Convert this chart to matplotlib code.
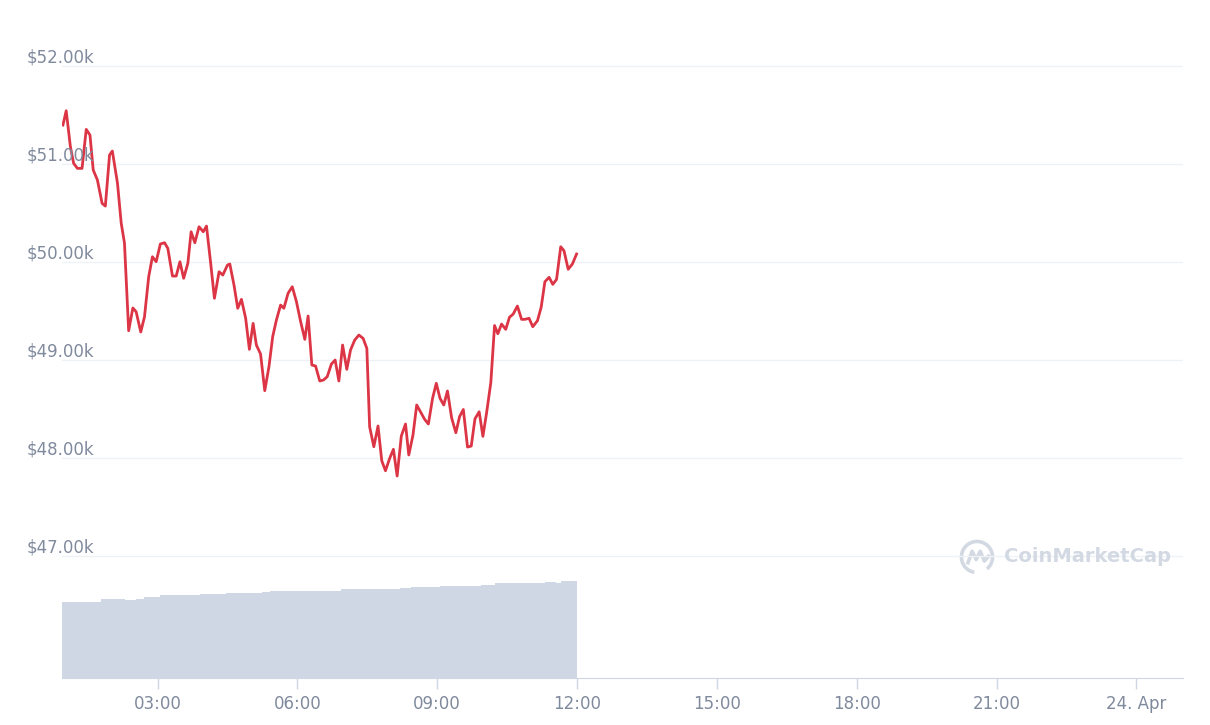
import matplotlib
matplotlib.use('Agg')
import matplotlib.pyplot as plt
from matplotlib.patches import Arc
import numpy as np

# Price samples (hour of day, USD)
hours = [0.97, 1.04, 1.13, 1.20, 1.28, 1.38, 1.47, 1.55, 1.62, 1.71,
         1.81, 1.88, 1.97, 2.03, 2.14, 2.22, 2.29, 2.38, 2.47, 2.54,
         2.64, 2.72, 2.81, 2.89, 2.97, 3.06, 3.15, 3.22, 3.32, 3.40,
         3.48, 3.56, 3.65, 3.72, 3.80, 3.89, 3.98, 4.05, 4.14, 4.22,
         4.32, 4.40, 4.50, 4.55, 4.64, 4.72, 4.80, 4.89, 4.97, 5.05,
         5.12, 5.21, 5.30, 5.39, 5.47, 5.55, 5.64, 5.71, 5.80, 5.89,
         5.98, 6.07, 6.16, 6.23, 6.31, 6.39, 6.48, 6.56, 6.64, 6.73,
         6.81, 6.89, 6.97, 7.06, 7.14, 7.23, 7.32, 7.41, 7.49, 7.55,
         7.64, 7.73, 7.81, 7.89, 7.98, 8.06, 8.14, 8.23, 8.32, 8.39,
         8.48, 8.56, 8.64, 8.73, 8.81, 8.90, 8.98, 9.06, 9.14, 9.22,
         9.31, 9.40, 9.48, 9.56, 9.65, 9.73, 9.81, 9.90, 9.98, 10.06,
         10.15, 10.23, 10.30, 10.38, 10.47, 10.55, 10.63, 10.72, 10.81, 10.88,
         10.97, 11.05, 11.15, 11.23, 11.31, 11.40, 11.48, 11.56, 11.65, 11.72,
         11.81, 11.90, 11.99]
prices = [51398, 51544, 51177, 51007, 50956, 50956, 51354, 51296, 50939, 50837,
          50599, 50571, 51092, 51133, 50806, 50398, 50194, 49299, 49531, 49493,
          49286, 49442, 49850, 50054, 50003, 50184, 50197, 50140, 49857, 49857,
          50003, 49834, 49987, 50309, 50197, 50360, 50309, 50367, 49987, 49630,
          49901, 49867, 49969, 49980, 49765, 49528, 49619, 49426, 49109, 49374,
          49153, 49061, 48687, 48932, 49238, 49408, 49561, 49528, 49681, 49748,
          49595, 49391, 49211, 49449, 48949, 48939, 48786, 48796, 48830, 48959,
          49000, 48786, 49153, 48905, 49102, 49204, 49255, 49221, 49119, 48319,
          48115, 48327, 47972, 47870, 47997, 48089, 47816, 48225, 48347, 48031,
          48235, 48541, 48472, 48395, 48347, 48609, 48762, 48609, 48541, 48684,
          48408, 48258, 48423, 48495, 48112, 48122, 48400, 48472, 48221, 48464,
          48770, 49352, 49268, 49367, 49313, 49436, 49469, 49551, 49415, 49415,
          49426, 49340, 49401, 49538, 49799, 49844, 49772, 49823, 50156, 50115,
          49926, 49980, 50082]

# 24h volume steps (hour, billions USD)
vol_hours = [0.96, 1.78, 2.10, 2.31, 2.53, 2.70, 2.85, 3.06, 3.32, 3.92,
             4.46, 4.57, 4.78, 5.04, 5.25, 5.42, 5.64, 6.07, 6.61, 6.93,
             7.36, 7.61, 7.89, 8.21, 8.43, 8.64, 9.07, 9.71, 9.93, 10.25,
             10.79, 11.00, 11.32, 11.54, 11.65, 12.00]
volumes = [57.0, 58.9, 59.3, 58.5, 59.3, 60.4, 61.1, 61.9, 62.6, 63.0,
           63.4, 63.8, 63.4, 63.8, 64.5, 65.3, 65.6, 65.3, 65.6, 66.4,
           66.8, 66.4, 67.1, 67.5, 68.3, 68.6, 69.0, 69.0, 69.8, 70.9,
           70.9, 71.3, 72.0, 71.3, 72.8, 72.8]

y_ticks = [47000, 48000, 49000, 50000, 51000, 52000]
y_labels = ['$47.00k', '$48.00k', '$49.00k', '$50.00k', '$51.00k', '$52.00k']
x_ticks = [3, 6, 9, 12, 15, 18, 21, 24]
x_labels = ['03:00', '06:00', '09:00', '12:00', '15:00', '18:00', '21:00', '24. Apr']

label_color = '#808a9d'
grid_color = '#eff2f5'
vol_color = '#cfd6e4'
line_color = '#dc3545'
mark_color = '#d3d9e3'

fig = plt.figure(figsize=(12.1, 7.25), dpi=100)
ax = fig.add_axes([62 / 1210, 1 - 678 / 725, 1121 / 1210, 658 / 725])
ax2 = ax.twinx()
ax.set_zorder(ax2.get_zorder() + 1)
ax.patch.set_visible(False)

# volume area
ax2.fill_between(vol_hours, volumes, step='post', color=vol_color, linewidth=0)
ax2.set_ylim(0, 493.5)
ax2.axis('off')

# price line
ax.plot(hours, prices, color=line_color, linewidth=2.0, solid_joinstyle='round')
ax.set_xlim(0.95, 25.0)
ax.set_ylim(45755, 52470)

for v, lab in zip(y_ticks, y_labels):
    ax.axhline(v, color=grid_color, linewidth=1, zorder=0)
    ax.text(-35 / 1121, v, lab, transform=ax.get_yaxis_transform(),
            ha='left', va='bottom', fontsize=12, color=label_color)
ax.set_yticks([])

ax.set_xticks(x_ticks)
ax.set_xticklabels(x_labels)
ax.tick_params(axis='x', length=8, width=1, color=vol_color, labelcolor=label_color,
               labelsize=12, pad=4)
for s in ['top', 'right', 'left']:
    ax.spines[s].set_visible(False)
ax.spines['bottom'].set_color(vol_color)

# watermark
fig.text(1004 / 1210, 1 - 557 / 725, 'CoinMarketCap', ha='left', va='center',
         fontsize=14, fontweight='bold', color=mark_color)
lax = fig.add_axes([959 / 1210, 1 - 575 / 725, 36 / 1210, 36 / 725])
lax.set_xlim(-1.1, 1.1)
lax.set_ylim(-1.1, 1.1)
lax.set_aspect('equal')
lax.axis('off')
lax.add_patch(Arc((0, 0), 1.9, 1.9, theta1=-50, theta2=260, color=mark_color, linewidth=2.6))
lax.plot([-0.55, -0.3, -0.05, 0.2, 0.45, 0.7], [-0.35, 0.35, -0.15, 0.35, -0.25, 0.05],
         color=mark_color, linewidth=2.6, solid_joinstyle='round')

fig.savefig('out.png', dpi=100)
